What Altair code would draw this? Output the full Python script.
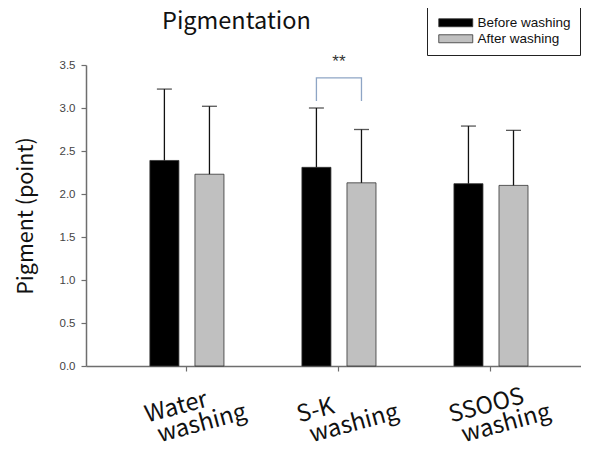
import altair as alt
import pandas as pd

groups = ["Water washing", "S-K washing", "SSOOS washing"]
line1 = ["Water", "S-K", "SSOOS"]
line2 = ["washing", "washing", "washing"]
series = ["Before washing", "After washing"]
before = [2.39, 2.31, 2.12]
after = [2.23, 2.13, 2.10]
before_err = [3.22, 3.00, 2.79]
after_err = [3.02, 2.75, 2.74]
bracket_group = "S-K washing"
bracket_low = 3.08
bracket_high = 3.35
star_level = 3.53

rows = []
for i, g in enumerate(groups):
    rows.append({"group": g, "series": series[0], "value": before[i], "upper": before_err[i]})
    rows.append({"group": g, "series": series[1], "value": after[i], "upper": after_err[i]})
df = pd.DataFrame(rows)

lab = pd.DataFrame({"group": groups, "l1": line1, "l2": line2})
br = pd.DataFrame({
    "group": [bracket_group] * 4,
    "series": [series[0], series[0], series[1], series[1]],
    "y": [bracket_low, bracket_high, bracket_high, bracket_low],
    "ord": [0, 1, 2, 3],
})
star = pd.DataFrame({"group": [bracket_group], "y": [star_level], "t": ["**"]})

W, H = 495, 301

xscale = alt.Scale(domain=groups, paddingInner=0, paddingOuter=0.128, align=0.64)
xoff = alt.Scale(domain=series, paddingInner=0.356, paddingOuter=0.865)
yscale = alt.Scale(domain=[0, 3.5], nice=False, zero=True)

X = alt.X("group:N", scale=xscale, sort=groups,
          axis=alt.Axis(title=None, labels=False, domainColor="#6e6e6e", domainWidth=1.5,
                        tickColor="#6e6e6e", tickSize=5, tickWidth=1.2, grid=False))
Y = alt.Y("value:Q", scale=yscale,
          axis=alt.Axis(title="Pigment (point)", values=[0, 0.5, 1, 1.5, 2, 2.5, 3, 3.5],
                        format=".1f", labelFont="Liberation Sans", labelFontSize=11.5,
                        labelColor="#444444", labelPadding=6, tickSize=5, tickColor="#6e6e6e",
                        tickWidth=1.2, domainColor="#6e6e6e", domainWidth=1.5, grid=False,
                        titleFont="Noto Sans CJK KR", titleFontSize=21.5, titleFontWeight="normal",
                        titleColor="#111111", titlePadding=22))

XN = alt.X("group:N", scale=xscale, sort=groups)
XO = alt.XOffset("series:N", scale=xoff, sort=series)

bars = alt.Chart(df).mark_bar(stroke="#333333", strokeWidth=0.8).encode(
    x=X,
    xOffset=XO,
    y=Y,
    color=alt.Color("series:N", sort=series,
                    scale=alt.Scale(domain=series, range=["#000000", "#c0c0c0"]),
                    legend=alt.Legend(title=None, orient="none", legendX=341, legendY=-58,
                                      strokeColor="#222222", padding=9, fillColor="white",
                                      symbolType="M-4.25,-1H4.25V1H-4.25Z", symbolSize=64,
                                      symbolStrokeColor="#333333", symbolStrokeWidth=0.8,
                                      labelFont="Liberation Sans", labelFontSize=13.5,
                                      labelColor="#111111", rowPadding=1, labelOffset=15,
                                      symbolOffset=13)),
)

err = alt.Chart(df).mark_rule(color="#111111", strokeWidth=1.3).encode(
    x=XN,
    xOffset=XO,
    y=alt.Y("value:Q", scale=yscale),
    y2="upper:Q",
)
caps = alt.Chart(df).mark_tick(color="#111111", thickness=1.3, size=15).encode(
    x=XN,
    xOffset=XO,
    y=alt.Y("upper:Q", scale=yscale),
)

bracket = alt.Chart(br).mark_line(color="#8ea5c5", strokeWidth=1.3).encode(
    x=XN,
    xOffset=XO,
    y=alt.Y("y:Q", scale=yscale),
    order="ord:Q",
)

stars = alt.Chart(star).mark_text(font="Liberation Sans", fontSize=17, color="#333333",
                                  baseline="middle").encode(
    x=XN,
    y=alt.Y("y:Q", scale=yscale),
    text="t:N",
)

lab1 = alt.Chart(lab).mark_text(font="Noto Sans CJK KR", fontSize=23.5, angle=345, align="left",
                                baseline="alphabetic", dx=-41, color="#111111").encode(
    x=XN,
    y=alt.value(347),
    text="l1:N",
)
lab2 = alt.Chart(lab).mark_text(font="Noto Sans CJK KR", fontSize=23.5, angle=345, align="left",
                                baseline="alphabetic", dx=-28, color="#111111").encode(
    x=XN,
    y=alt.value(370),
    text="l2:N",
)

chart = alt.layer(bars, err, caps, bracket, stars, lab1, lab2).properties(
    width=W, height=H,
    background="white",
    title=alt.TitleParams("Pigmentation", anchor="start", frame="group", dx=76, offset=0, dy=27,
                          font="Noto Sans CJK KR", fontSize=23.5, fontWeight="normal",
                          color="#111111"),
    padding={"left": 78, "top": 57, "right": 0, "bottom": 78},
    autosize=alt.AutoSizeParams(type="none"),
).configure_view(strokeWidth=0, stroke="transparent").configure_axis(grid=False)

chart.save("out.html", embed_options={"renderer": "svg", "actions": False})
